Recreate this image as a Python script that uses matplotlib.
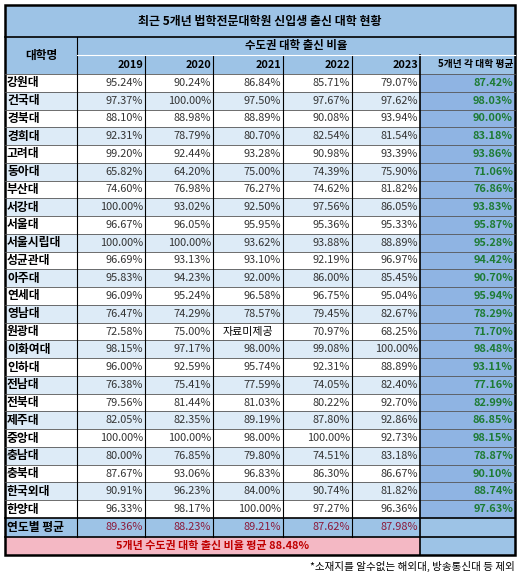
import matplotlib
matplotlib.use("Agg")
import matplotlib.pyplot as plt
from matplotlib.patches import Rectangle

plt.rcParams["font.family"] = ["Noto Sans CJK KR", "DejaVu Sans"]

TITLE = "최근 5개년 법학전문대학원 신입생 출신 대학 현황"
years = ["2019", "2020", "2021", "2022", "2023"]
schools = ["강원대", "건국대", "경북대", "경희대", "고려대", "동아대", "부산대", "서강대", "서울대",
           "서울시립대", "성균관대", "아주대", "연세대", "영남대", "원광대", "이화여대", "인하대",
           "전남대", "전북대", "제주대", "중앙대", "충남대", "충북대", "한국외대", "한양대"]
ratios = [
    ["95.24%", "90.24%", "86.84%", "85.71%", "79.07%"],
    ["97.37%", "100.00%", "97.50%", "97.67%", "97.62%"],
    ["88.10%", "88.98%", "88.89%", "90.08%", "93.94%"],
    ["92.31%", "78.79%", "80.70%", "82.54%", "81.54%"],
    ["99.20%", "92.44%", "93.28%", "90.98%", "93.39%"],
    ["65.82%", "64.20%", "75.00%", "74.39%", "75.90%"],
    ["74.60%", "76.98%", "76.27%", "74.62%", "81.82%"],
    ["100.00%", "93.02%", "92.50%", "97.56%", "86.05%"],
    ["96.67%", "96.05%", "95.95%", "95.36%", "95.33%"],
    ["100.00%", "100.00%", "93.62%", "93.88%", "88.89%"],
    ["96.69%", "93.13%", "93.10%", "92.19%", "96.97%"],
    ["95.83%", "94.23%", "92.00%", "86.00%", "85.45%"],
    ["96.09%", "95.24%", "96.58%", "96.75%", "95.04%"],
    ["76.47%", "74.29%", "78.57%", "79.45%", "82.67%"],
    ["72.58%", "75.00%", "자료미제공", "70.97%", "68.25%"],
    ["98.15%", "97.17%", "98.00%", "99.08%", "100.00%"],
    ["96.00%", "92.59%", "95.74%", "92.31%", "88.89%"],
    ["76.38%", "75.41%", "77.59%", "74.05%", "82.40%"],
    ["79.56%", "81.44%", "81.03%", "80.22%", "92.70%"],
    ["82.05%", "82.35%", "89.19%", "87.80%", "92.86%"],
    ["100.00%", "100.00%", "98.00%", "100.00%", "92.73%"],
    ["80.00%", "76.85%", "79.80%", "74.51%", "83.18%"],
    ["87.67%", "93.06%", "96.83%", "86.30%", "86.67%"],
    ["90.91%", "96.23%", "84.00%", "90.74%", "81.82%"],
    ["96.33%", "98.17%", "100.00%", "97.27%", "96.36%"],
]
school_avg = ["87.42%", "98.03%", "90.00%", "83.18%", "93.86%", "71.06%", "76.86%", "93.83%",
              "95.87%", "95.28%", "94.42%", "90.70%", "95.94%", "78.29%", "71.70%", "98.48%",
              "93.11%", "77.16%", "82.99%", "86.85%", "98.15%", "78.87%", "90.10%", "88.74%",
              "97.63%"]
year_avg = ["89.36%", "88.23%", "89.21%", "87.62%", "87.98%"]
total_note = "5개년 수도권 대학 출신 비율 평균 88.48%"
footnote = "*소재지를 알수없는 해외대, 방송통신대 등 제외"

HEAD = "#9dc3e6"
ALT = "#ddebf7"
AVG = "#8fb4e3"
PINK = "#f4b8c4"

fig = plt.figure(figsize=(5.29, 5.8), dpi=100)
ax = fig.add_axes([0, 0, 1, 1])
ax.set_xlim(0, 529)
ax.set_ylim(580, 0)
ax.axis("off")

cols = [5, 77, 145, 213, 283, 352, 420, 515]
y_title, y_h1, y_h2, y0 = 5, 37, 55, 74
rh = 17.76
fs = 7.9


def cell(x0, x1, ya, yb, color):
    ax.add_patch(Rectangle((x0, ya), x1 - x0, yb - ya, facecolor=color, edgecolor="none"))


cell(cols[0], cols[-1], y_title, y_h1, HEAD)
ax.text((cols[0] + cols[-1]) / 2, (y_title + y_h1) / 2, TITLE, ha="center", va="center",
        fontsize=8.6, fontweight="bold")
cell(cols[0], cols[-1], y_h1, y0, HEAD)
ax.text((cols[0] + cols[1]) / 2, (y_h1 + y0) / 2, "대학명", ha="center", va="center",
        fontsize=fs + 0.5, fontweight="bold")
ax.text((cols[1] + cols[-1]) / 2, (y_h1 + y_h2) / 2, "수도권 대학 출신 비율", ha="center",
        va="center", fontsize=fs + 0.3, fontweight="bold")
for j, yr in enumerate(years):
    ax.text(cols[j + 2] - 2, (y_h2 + y0) / 2, yr, ha="right", va="center", fontsize=fs,
            fontweight="bold")
ax.text(cols[-1] - 2, (y_h2 + y0) / 2, "5개년 각 대학 평균", ha="right", va="center",
        fontsize=7.0, fontweight="bold")

for i, name in enumerate(schools):
    ya = y0 + i * rh
    yb = ya + rh
    ym = (ya + yb) / 2
    cell(cols[0], cols[6], ya, yb, ALT if i % 2 else "white")
    cell(cols[6], cols[7], ya, yb, AVG)
    ax.text(cols[0] + 2, ym, name, ha="left", va="center", fontsize=fs + 0.6, fontweight="bold")
    for j, v in enumerate(ratios[i]):
        if v.endswith("%"):
            ax.text(cols[j + 2] - 2, ym, v, ha="right", va="center", fontsize=fs, color="#333333")
        else:
            ax.text((cols[j + 1] + cols[j + 2]) / 2, ym, v, ha="center", va="center",
                    fontsize=fs)
    ax.text(cols[-1] - 2, ym, school_avg[i], ha="right", va="center", fontsize=fs,
            fontweight="bold", color="#1e7b34")
    ax.plot([cols[0], cols[-1]], [ya, ya], color="#555555", lw=0.6)

ya = y0 + len(schools) * rh
yb = ya + 19
cell(cols[0], cols[-1], ya, yb, HEAD)
ax.plot([cols[0], cols[-1]], [ya, ya], color="black", lw=1.2)
ax.text(cols[0] + 2, (ya + yb) / 2, "연도별 평균", ha="left", va="center", fontsize=fs + 0.6,
        fontweight="bold")
for j, v in enumerate(year_avg):
    ax.text(cols[j + 2] - 2, (ya + yb) / 2, v, ha="right", va="center", fontsize=fs,
            color="#8b1a3a")
yc = yb + 18
cell(cols[0], cols[6], yb, yc, PINK)
cell(cols[6], cols[7], yb, yc, HEAD)
ax.text((cols[0] + cols[6]) / 2, (yb + yc) / 2, total_note, ha="center", va="center",
        fontsize=fs, fontweight="bold", color="#c00000")
ax.plot([cols[0], cols[-1]], [yb, yb], color="black", lw=1.2)

# column rules and borders
for x in cols[1:6]:
    ax.plot([x, x], [y_h2, yb], color="black", lw=0.8)
ax.plot([cols[1], cols[1]], [y_h1, y_h2], color="black", lw=0.8)
ax.plot([cols[6], cols[6]], [y_h2, yc], color="black", lw=1.2)
ax.plot([cols[1], cols[-1]], [y_h2, y_h2], color="white", lw=0.8)
ax.plot([cols[0], cols[-1]], [y_h1, y_h1], color="black", lw=1.2)
ax.add_patch(Rectangle((cols[0], y_title), cols[-1] - cols[0], yc - y_title, facecolor="none",
                       edgecolor="black", lw=1.8))
ax.text(cols[-1], yc + 11, footnote, ha="right", va="center", fontsize=7.6)

fig.savefig("out.png", dpi=100)
